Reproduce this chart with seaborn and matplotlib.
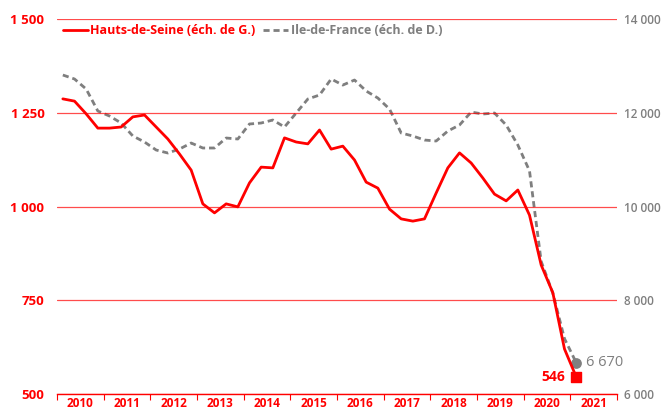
import numpy as np
import pandas as pd
import matplotlib
matplotlib.use("Agg")
import matplotlib.pyplot as plt
from matplotlib.lines import Line2D
import seaborn as sns

# ---- data (quarterly, 2010 T1 .. 2021 T1) ----
years = [str(y) for y in range(2010, 2022)]
quarters = [f"{y}T{q}" for y in range(2010, 2022) for q in range(1, 5)][:45]

hauts_de_seine = [1287, 1281, 1247, 1209, 1209, 1212, 1239, 1244,
                  1212, 1180, 1140, 1097, 1007, 983, 1007, 999,
                  1063, 1105, 1103, 1183, 1172, 1167, 1204, 1153,
                  1161, 1124, 1065, 1049, 993, 967, 961, 967,
                  1036, 1103, 1143, 1116, 1076, 1033, 1015, 1044,
                  977, 844, 770, 620, 546]

ile_de_france = [12805, 12720, 12506, 12037, 11930, 11781, 11504, 11376,
                 11205, 11141, 11226, 11354, 11248, 11248, 11461, 11440,
                 11760, 11781, 11845, 11696, 11994, 12293, 12378, 12720,
                 12591, 12698, 12464, 12314, 12080, 11568, 11504, 11418,
                 11397, 11610, 11738, 12015, 11973, 11994, 11738, 11312,
                 10760, 8830, 8150, 7180, 6670]

left_ticks = [500, 750, 1000, 1250, 1500]
right_ticks = [6000, 8000, 10000, 12000, 14000]

RED = "#ff0000"
GREY = "#7f7f7f"

sns.set_theme(style="white")
plt.rcParams["font.family"] = ["Open Sans", "DejaVu Sans"]

df = pd.DataFrame({
    "quarter": quarters,
    "pos": np.arange(len(quarters)) + 0.5,
    "hds": hauts_de_seine,
    "idf": ile_de_france,
})

fig = plt.figure(figsize=(6.64, 4.12), dpi=100)
ax = fig.add_axes([57 / 664, 1 - 394 / 412, (617 - 57) / 664, (394 - 19) / 412])
ax2 = ax.twinx()

# grid lines for left axis
for v in left_ticks:
    ax.axhline(v, color=RED, lw=0.9, alpha=0.7, zorder=0)

sns.lineplot(data=df, x="pos", y="hds", ax=ax, color=RED, lw=2.0, zorder=3)
sns.lineplot(data=df, x="pos", y="idf", ax=ax2, color=GREY, lw=2.0,
             linestyle=(0, (2.2, 1.4)), zorder=2)
ax.set_zorder(ax2.get_zorder() + 1)
ax.patch.set_visible(False)

# end markers
last = df.iloc[-1]
ax.scatter([last["pos"]], [last["hds"]], marker="s", s=55, color=RED, zorder=5)
ax2.scatter([last["pos"]], [last["idf"]], marker="o", s=45, color=GREY, zorder=5)
ax.annotate(f"{hauts_de_seine[-1]}", (last["pos"], last["hds"]), xytext=(-8, 0),
            textcoords="offset points", ha="right", va="center",
            color=RED, fontsize=10, fontweight="bold")
ax2.annotate(f"{ile_de_france[-1]:,}".replace(",", " "), (last["pos"], last["idf"]),
             xytext=(7, 0), textcoords="offset points", ha="left", va="center",
             color=GREY, fontsize=10.5)

# axes limits / ticks
n_years = len(years)
ax.set_xlim(0, 4 * n_years)
ax.set_ylim(500, 1500)
ax2.set_ylim(6000, 14000)

ax.set_xticks(np.arange(0, 4 * n_years + 1, 4))
ax.set_xticklabels([])
ax.set_xticks(np.arange(2, 4 * n_years, 4), minor=True)
ax.set_xticklabels(years, minor=True)
ax.tick_params(axis="x", which="major", direction="out", length=4, width=0.8,
               color=RED, bottom=True)
ax.tick_params(axis="x", which="minor", length=0, pad=2.5, labelsize=8.5,
               labelcolor=RED)
for t in ax.get_xticklabels(minor=True):
    t.set_fontweight("bold")

ax.set_yticks(left_ticks)
ax.set_yticklabels([f"{v:,}".replace(",", " ") for v in left_ticks],
                   color=RED, fontweight="bold", fontsize=9.5)
ax.tick_params(axis="y", length=0, pad=9)
ax2.set_yticks(right_ticks)
ax2.set_yticklabels([f"{v:,}".replace(",", " ") for v in right_ticks],
                    color=GREY, fontweight="semibold", fontsize=8.5)
ax2.tick_params(axis="y", length=0, pad=5)

ax.set_xlabel("")
ax.set_ylabel("")
ax2.set_ylabel("")
for a in (ax, ax2):
    for s in ("top", "left", "right", "bottom"):
        a.spines[s].set_visible(False)
ax.spines["bottom"].set_visible(True)
ax.spines["bottom"].set_color(RED)
ax.spines["bottom"].set_linewidth(1.0)

handles = [Line2D([], [], color=RED, lw=2.0),
           Line2D([], [], color=GREY, lw=2.0, linestyle=(0, (2.2, 1.4)))]
leg = fig.legend(handles, ["Hauts-de-Seine (éch. de G.)", "Ile-de-France (éch. de D.)"],
                 loc="center left", bbox_to_anchor=(63 / 664, 1 - 31 / 412),
                 ncol=2, frameon=False, handlelength=2.0, handletextpad=0.2,
                 columnspacing=0.6, borderpad=0, borderaxespad=0,
                 prop={"size": 9, "weight": "bold"})
for txt, c in zip(leg.get_texts(), (RED, GREY)):
    txt.set_color(c)

fig.savefig("out.png", dpi=100)
